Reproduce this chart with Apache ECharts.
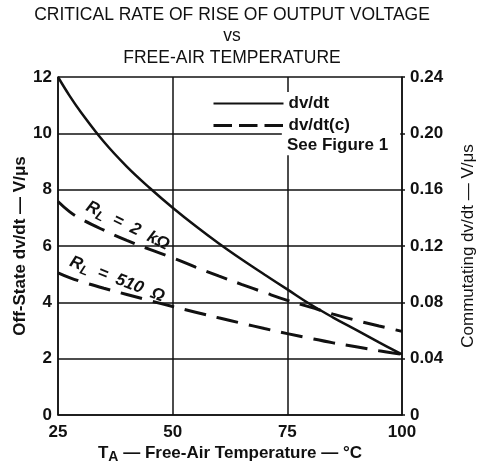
<!DOCTYPE html>
<html>
<head>
<meta charset="utf-8">
<script src="https://cdn.jsdelivr.net/npm/echarts@6/dist/echarts.min.js"></script>
<style>
html,body{margin:0;padding:0;background:#fff;}
#chart{width:482px;height:467px;}
</style>
</head>
<body>
<div id="chart"></div>
<script>
// Free-air temperature, °C
const temps = [25, 27.5, 30, 35, 40, 45, 50, 55, 60, 65, 70, 75, 80, 85, 90, 95, 100];
// Off-state dv/dt, V/µs (left axis)
const offStateDvdt = [12.0, 11.34, 10.75, 9.70, 8.82, 8.06, 7.36, 6.71, 6.10, 5.53, 4.99, 4.46, 3.93, 3.46, 3.02, 2.58, 2.15];
// Commutating dv/dt(c), V/µs (right axis), RL = 2 kΩ
const commDvdt2k = [0.1516, 0.1444, 0.1392, 0.1312, 0.124, 0.1176, 0.1116, 0.105, 0.0988, 0.0928, 0.087, 0.0814, 0.0766, 0.0716, 0.0672, 0.0632, 0.0594];
// Commutating dv/dt(c), V/µs (right axis), RL = 510 Ω
const commDvdt510 = [0.101, 0.0976, 0.0948, 0.090, 0.0856, 0.0812, 0.077, 0.073, 0.069, 0.0652, 0.0614, 0.0578, 0.0544, 0.0512, 0.0484, 0.0456, 0.043];
// Axis ticks
const xTicks = [25, 50, 75, 100];
const leftTicks = [0, 2, 4, 6, 8, 10, 12];
const rightTicks = [0, 0.04, 0.08, 0.12, 0.16, 0.20, 0.24];
// Curve annotation anchors (temperature, off-state dv/dt)
const anno2kAt = [40.2, 6.72];
const anno510At = [37.9, 4.82];

const FONT = "'Liberation Sans', Arial, Helvetica, sans-serif";
const INK = '#111';

const chart = echarts.init(document.getElementById('chart'), null, {renderer: 'canvas'});

const option = {
  animation: false,
  backgroundColor: '#fff',
  color: [INK, INK, INK],
  title: {
    text: 'CRITICAL RATE OF RISE OF OUTPUT VOLTAGE\nvs\nFREE-AIR TEMPERATURE',
    left: 232,
    top: 4,
    textAlign: 'center',
    padding: 0,
    textStyle: {fontFamily: FONT, fontSize: 17.5, fontWeight: 'normal', color: INK, lineHeight: 21.5}
  },
  grid: {left: 58, right: 80, top: 77, bottom: 52, containLabel: false, outerBoundsMode: 'none'},
  legend: {
    orient: 'vertical',
    left: 212,
    top: 95,
    itemWidth: 70,
    itemHeight: 12,
    itemGap: 5,
    padding: 0,
    data: [
      {name: 'dv/dt'},
      {name: 'dv/dt(c)', lineStyle: {type: [18.5, 7], width: 3, color: INK}}
    ],
    itemStyle: {color: 'rgba(0,0,0,0)', borderWidth: 0, opacity: 0},
    textStyle: {fontFamily: FONT, fontSize: 17, fontWeight: 'bold', color: INK}
  },
  xAxis: {
    type: 'value',
    min: xTicks[0],
    max: xTicks[xTicks.length - 1],
    interval: xTicks[1] - xTicks[0],
    name: '{t|T}{s|A}{t| — Free-Air Temperature — °C}',
    nameLocation: 'middle',
    nameGap: 27,
    nameMoveOverlap: false,
    nameTextStyle: {
      rich: {
        t: {fontFamily: FONT, fontSize: 17, fontWeight: 'bold', color: INK},
        s: {fontFamily: FONT, fontSize: 14, fontWeight: 'bold', color: INK, padding: [8, 0, 0, 0]}
      }
    },
    axisLine: {show: true, lineStyle: {color: INK, width: 1.5}},
    axisTick: {show: false},
    axisLabel: {fontFamily: FONT, fontSize: 17, fontWeight: 'bold', color: INK, margin: 9},
    splitLine: {show: true, lineStyle: {color: INK, width: 1.5}}
  },
  yAxis: [
    {
      type: 'value',
      position: 'left',
      min: leftTicks[0],
      max: leftTicks[leftTicks.length - 1],
      interval: leftTicks[1] - leftTicks[0],
      name: 'Off-State dv/dt — V/μs',
      nameLocation: 'middle',
      nameRotate: 90,
      nameGap: 29,
      nameMoveOverlap: false,
      nameTextStyle: {fontFamily: FONT, fontSize: 17, fontWeight: 'bold', color: INK},
      axisLine: {show: true, lineStyle: {color: INK, width: 1.5}},
      axisTick: {show: false},
      axisLabel: {fontFamily: FONT, fontSize: 17, fontWeight: 'bold', color: INK, margin: 6},
      splitLine: {show: true, lineStyle: {color: INK, width: 1.5}}
    },
    {
      type: 'value',
      position: 'right',
      min: rightTicks[0],
      max: rightTicks[rightTicks.length - 1],
      interval: 0.04,
      name: 'Commutating dv/dt — V/μs',
      nameLocation: 'middle',
      nameRotate: 90,
      nameGap: 58,
      nameMoveOverlap: false,
      nameTextStyle: {fontFamily: FONT, fontSize: 17, fontWeight: 'normal', color: INK},
      axisLine: {show: true, lineStyle: {color: INK, width: 1.5}},
      axisTick: {show: true, length: 3, lineStyle: {color: INK, width: 1.5}},
      axisLabel: {
        fontFamily: FONT, fontSize: 17, fontWeight: 'bold', color: INK, margin: 8,
        formatter: v => (v === 0 ? '0' : v.toFixed(2))
      },
      splitLine: {show: false}
    }
  ],
  series: [
    {
      name: 'dv/dt',
      type: 'line',
      yAxisIndex: 0,
      smooth: 0.4,
      symbol: 'none',
      data: temps.map((t, i) => [t, offStateDvdt[i]]),
      lineStyle: {color: INK, width: 2.5},
      itemStyle: {color: INK},
      z: 3
    },
    {
      name: 'dv/dt(c)',
      type: 'line',
      yAxisIndex: 1,
      smooth: 0.4,
      symbol: 'none',
      data: temps.map((t, i) => [t, commDvdt2k[i]]),
      lineStyle: {color: INK, width: 3, type: [22, 11]},
      itemStyle: {color: INK},
      z: 3
    },
    {
      name: 'dv/dt(c)',
      type: 'line',
      yAxisIndex: 1,
      smooth: 0.4,
      symbol: 'none',
      data: temps.map((t, i) => [t, commDvdt510[i]]),
      lineStyle: {color: INK, width: 3, type: [22, 11]},
      itemStyle: {color: INK},
      z: 3
    }
  ]
};

chart.setOption(option);

const p2k = chart.convertToPixel({xAxisIndex: 0, yAxisIndex: 0}, anno2kAt);
const p510 = chart.convertToPixel({xAxisIndex: 0, yAxisIndex: 0}, anno510At);
const pLegendBoxTL = chart.convertToPixel({xAxisIndex: 0, yAxisIndex: 0}, [73.8, 11.47]);
const pLegendBoxBR = chart.convertToPixel({xAxisIndex: 0, yAxisIndex: 0}, [99.6, 9.22]);

const annoRich = {
  r: {fontFamily: FONT, fontSize: 17, fontStyle: 'italic', fontWeight: 'bold', fill: INK},
  l: {fontFamily: FONT, fontSize: 13, fontStyle: 'italic', fontWeight: 'bold', fill: INK, padding: [9, 0, 0, 0]},
  n: {fontFamily: FONT, fontSize: 17, fontStyle: 'italic', fontWeight: 'bold', fill: INK}
};

chart.setOption({
  graphic: [
    {
      type: 'rect',
      z: 1,
      shape: {x: pLegendBoxTL[0], y: pLegendBoxTL[1], width: pLegendBoxBR[0] - pLegendBoxTL[0], height: pLegendBoxBR[1] - pLegendBoxTL[1]},
      style: {fill: '#fff'}
    },
    {
      type: 'text',
      z: 5,
      left: 287,
      top: 137,
      style: {text: 'See Figure 1', fontFamily: FONT, fontSize: 17, fontWeight: 'bold', fill: INK}
    },
    {
      type: 'text',
      z: 5,
      x: p2k[0],
      y: p2k[1],
      rotation: -0.46,
      style: {
        text: '{r|R}{l|L}{n|  =  2  kΩ}',
        rich: annoRich,
        align: 'center',
        verticalAlign: 'middle'
      }
    },
    {
      type: 'text',
      z: 5,
      x: p510[0],
      y: p510[1],
      rotation: -0.37,
      style: {
        text: '{r|R}{l|L}{n|  =  510  Ω}',
        rich: annoRich,
        align: 'center',
        verticalAlign: 'middle'
      }
    }
  ]
});
</script>
</body>
</html>
